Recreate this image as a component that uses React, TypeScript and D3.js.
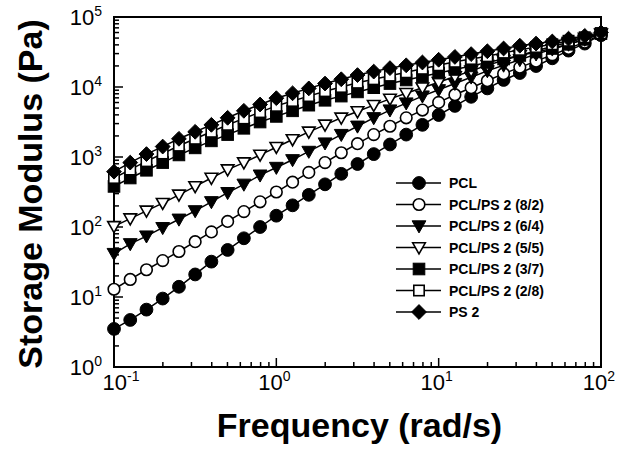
import React from "react";
import * as d3 from "d3";

const frequencies = [
  0.1, 0.1259, 0.1585, 0.1995, 0.2512, 0.3162, 0.3981, 0.5012, 0.631, 0.7943,
  1, 1.259, 1.585, 1.995, 2.512, 3.162, 3.981, 5.012, 6.31, 7.943,
  10, 12.59, 15.85, 19.95, 25.12, 31.62, 39.81, 50.12, 63.1, 79.43, 100,
];

const pcl = [3.5, 4.7, 6.6, 9.5, 14, 21, 32, 47, 69, 100, 145, 204, 288, 407, 575, 794, 1100, 1510, 2090, 2880, 3980, 5370, 7240, 9550, 12600, 15850, 19950, 25700, 33100, 41700, 55000];
const pcl82 = [12.9, 17.8, 24.5, 33.1, 44.7, 61.7, 85.1, 120, 166, 229, 316, 437, 603, 832, 1150, 1550, 2090, 2750, 3630, 4680, 6030, 7760, 9770, 12300, 15500, 19100, 23400, 28800, 35500, 43700, 56000];
const pcl64 = [41.7, 57.5, 74.1, 97.7, 129, 170, 229, 309, 407, 550, 708, 912, 1200, 1580, 2090, 2750, 3630, 4680, 5890, 7410, 9120, 11200, 13800, 17000, 20400, 24500, 29500, 34700, 40700, 47900, 57000];
const pcl55 = [102, 132, 170, 219, 288, 380, 501, 661, 832, 1070, 1380, 1780, 2290, 2880, 3630, 4470, 5500, 6760, 8130, 9770, 11700, 14100, 17000, 20400, 24000, 28200, 33100, 38000, 43700, 50100, 57500];
const pcl37 = [380, 501, 646, 832, 1070, 1350, 1700, 2090, 2570, 3160, 3800, 4570, 5500, 6460, 7410, 8510, 9770, 11200, 12600, 14100, 15800, 17800, 20000, 22400, 25100, 28200, 31600, 35500, 40700, 47900, 58000];
const pcl28 = [501, 661, 871, 1120, 1450, 1820, 2290, 2880, 3550, 4370, 5370, 6310, 7410, 8710, 10000, 11500, 12900, 14500, 16200, 18200, 20400, 22900, 25100, 27500, 30900, 33900, 37200, 40700, 45700, 51300, 58500];
const ps2 = [617, 832, 1100, 1410, 1820, 2290, 2880, 3630, 4570, 5620, 6920, 8130, 9550, 11200, 12900, 14800, 16600, 18600, 20400, 22400, 24500, 26900, 29500, 32400, 35500, 38900, 41700, 44700, 49000, 53700, 60300];

const seriesNames = ["PCL", "PCL/PS 2 (8/2)", "PCL/PS 2 (6/4)", "PCL/PS 2 (5/5)", "PCL/PS 2 (3/7)", "PCL/PS 2 (2/8)", "PS 2"];
const seriesValues = [pcl, pcl82, pcl64, pcl55, pcl37, pcl28, ps2];
const seriesMarkers = ["circle", "circle-open", "tri", "tri-open", "square", "square-open", "diamond"];

const xTickExps = [-1, 0, 1, 2];
const yTickExps = [0, 1, 2, 3, 4, 5];

const W = 628, H = 450;
const L = 114, R = 601, T = 17, B = 367;
const FONT = "'Liberation Sans', Arial, Helvetica, sans-serif";

function Marker({ type, x, y }: { type: string; x: number; y: number }) {
  const open = type.endsWith("open");
  const fill = open ? "#fff" : "#000";
  const sw = open ? 1.6 : 1;
  if (type.startsWith("circle")) {
    return <circle cx={x} cy={y} r={open ? 5.8 : 6.4} fill={fill} stroke="#000" strokeWidth={sw} />;
  }
  if (type.startsWith("tri")) {
    const s = open ? 6.3 : 6.9;
    const pts = `${x - s},${y - s * 0.75} ${x + s},${y - s * 0.75} ${x},${y + s * 1.0}`;
    return <polygon points={pts} fill={fill} stroke="#000" strokeWidth={sw} strokeLinejoin="miter" />;
  }
  if (type.startsWith("square")) {
    const s = open ? 5.2 : 5.8;
    return <rect x={x - s} y={y - s} width={2 * s} height={2 * s} fill={fill} stroke="#000" strokeWidth={sw} />;
  }
  const d = 7.4;
  const pts = `${x},${y - d} ${x + d},${y} ${x},${y + d} ${x - d},${y}`;
  return <polygon points={pts} fill="#000" stroke="#000" strokeWidth={1} />;
}

export default function App() {
  const x = d3.scaleLog().domain([0.1, 100]).range([L, R]);
  const y = d3.scaleLog().domain([1, 1e5]).range([B, T]);
  const line = d3
    .line<number>()
    .x((_, i) => x(frequencies[i]))
    .y((v) => y(v));

  const xMinor: number[] = [];
  for (let e = -1; e < 2; e++) for (let m = 2; m <= 9; m++) xMinor.push(m * Math.pow(10, e));
  const yMinor: number[] = [];
  for (let e = 0; e < 5; e++) for (let m = 2; m <= 9; m++) yMinor.push(m * Math.pow(10, e));

  const legX = 396, legX2 = 441, legMx = 419, legTx = 449, legY0 = 183, legDy = 21.5;

  return (
    <svg width={W} height={H} style={{ position: "absolute", left: 0, top: 0, background: "#fff" }} fontFamily={FONT}>
      <rect x={0} y={0} width={W} height={H} fill="#fff" />
      <g stroke="#000" strokeWidth={1.5}>
        {xTickExps.map((e) => (
          <line key={"xM" + e} x1={x(Math.pow(10, e))} x2={x(Math.pow(10, e))} y1={B} y2={B - 9} />
        ))}
        {xMinor.map((v) => (
          <line key={"xm" + v} x1={x(v)} x2={x(v)} y1={B} y2={B - 5} />
        ))}
        {yTickExps.map((e) => (
          <line key={"yM" + e} x1={L} x2={L + 9} y1={y(Math.pow(10, e))} y2={y(Math.pow(10, e))} />
        ))}
        {yMinor.map((v) => (
          <line key={"ym" + v} x1={L} x2={L + 5} y1={y(v)} y2={y(v)} />
        ))}
      </g>
      <rect x={L} y={T} width={R - L} height={B - T} fill="none" stroke="#000" strokeWidth={2} />
      {xTickExps.map((e, i) => (
        <text key={"xl" + e} x={x(Math.pow(10, e)) + (i === 0 ? 7 : -2)} y={390} fontSize={22} textAnchor="middle" fill="#000">
          10<tspan fontSize={14} dy={-9}>{String(e)}</tspan>
        </text>
      ))}
      {yTickExps.map((e) => (
        <text key={"yl" + e} x={102} y={y(Math.pow(10, e)) + 8} fontSize={22} textAnchor="end" fill="#000">
          10<tspan fontSize={14} dy={-9}>{e}</tspan>
        </text>
      ))}
      <text x={(L + R) / 2 + 2} y={437} fontSize={34} fontWeight="bold" textAnchor="middle" fill="#000">
        Frequency (rad/s)
      </text>
      <text transform={`translate(42,${(T + B) / 2 + 2}) rotate(-90)`} fontSize={34} fontWeight="bold" textAnchor="middle" fill="#000">
        Storage Modulus (Pa)
      </text>
      {seriesValues.map((vals, si) => (
        <g key={"s" + si}>
          <path d={line(vals) || ""} fill="none" stroke="#000" strokeWidth={1.5} />
          {vals.map((v, i) => (
            <Marker key={i} type={seriesMarkers[si]} x={x(frequencies[i])} y={y(v)} />
          ))}
        </g>
      ))}
      {seriesNames.map((n, i) => {
        const ly = legY0 + i * legDy;
        return (
          <g key={"l" + i}>
            <line x1={legX} x2={legX2} y1={ly} y2={ly} stroke="#000" strokeWidth={1.5} />
            <Marker type={seriesMarkers[i]} x={legMx} y={ly} />
            <text x={legTx} y={ly + 5} fontSize={14} fontWeight="bold" fill="#000">
              {n}
            </text>
          </g>
        );
      })}
    </svg>
  );
}
